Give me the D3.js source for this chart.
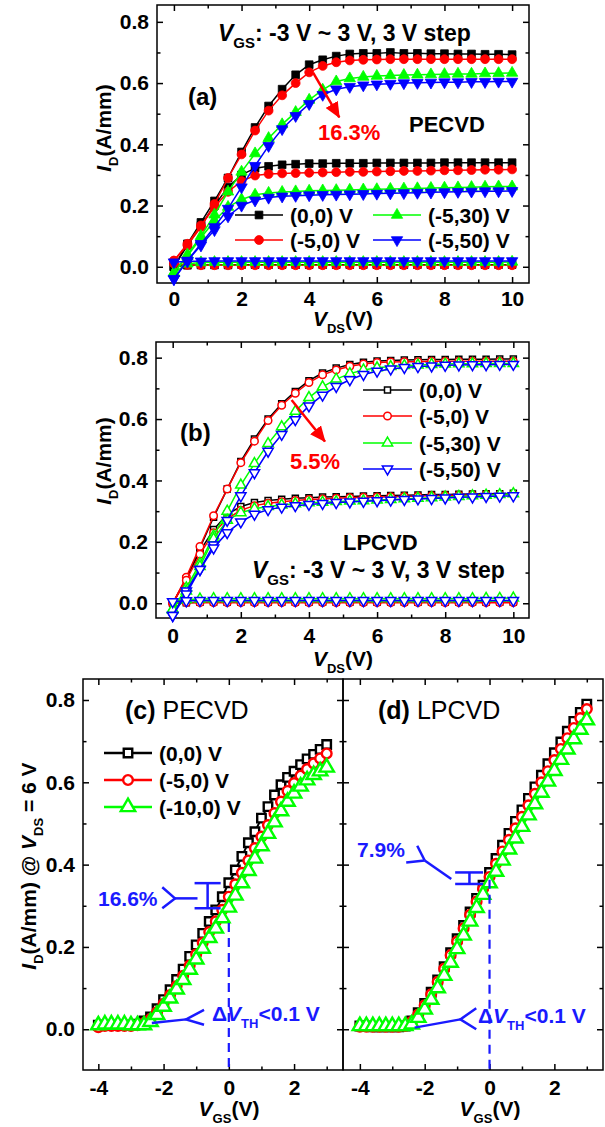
<!DOCTYPE html>
<html>
<head>
<meta charset="utf-8">
<script src="https://cdn.jsdelivr.net/npm/d3@7"></script>
<style>
  body { margin: 0; background: #fff; }
  svg { display: block; }
</style>
</head>
<body>
<script>
const FONT = "'Liberation Sans', Arial, Helvetica, sans-serif";

// ---- panel (a)/(b): output curves, V_DS sweep ----
const vds = [0, 0.4, 0.8, 1.2, 1.6, 2, 2.4, 2.8, 3.2, 3.6, 4, 4.4, 4.8, 5.2, 5.6, 6, 6.4, 6.8, 7.2, 7.6, 8, 8.4, 8.8, 9.2, 9.6, 10];

// (a) PECVD, VGS = 3 V / 0 V / -3 V
const aBlackHi = [0.000, 0.075, 0.145, 0.215, 0.290, 0.375, 0.455, 0.525, 0.580, 0.627, 0.660, 0.676, 0.688, 0.695, 0.697, 0.697, 0.700, 0.697, 0.697, 0.696, 0.696, 0.695, 0.695, 0.694, 0.694, 0.693];
const aRedHi   = [0.020, 0.070, 0.130, 0.205, 0.290, 0.367, 0.445, 0.510, 0.560, 0.600, 0.635, 0.656, 0.668, 0.674, 0.676, 0.677, 0.678, 0.678, 0.678, 0.678, 0.678, 0.678, 0.678, 0.678, 0.678, 0.678];
const aGreenHi = [-0.020, 0.040, 0.100, 0.170, 0.245, 0.310, 0.370, 0.420, 0.465, 0.505, 0.545, 0.578, 0.605, 0.615, 0.620, 0.623, 0.625, 0.626, 0.627, 0.628, 0.629, 0.630, 0.630, 0.631, 0.632, 0.633];
const aBlueHi  = [-0.040, 0.020, 0.075, 0.130, 0.190, 0.260, 0.330, 0.395, 0.450, 0.493, 0.532, 0.562, 0.580, 0.588, 0.593, 0.596, 0.598, 0.600, 0.601, 0.602, 0.603, 0.603, 0.604, 0.604, 0.605, 0.605];
const aBlackMid = [0.000, 0.070, 0.135, 0.200, 0.260, 0.300, 0.322, 0.328, 0.333, 0.335, 0.337, 0.337, 0.338, 0.338, 0.338, 0.339, 0.339, 0.339, 0.339, 0.339, 0.340, 0.340, 0.340, 0.340, 0.340, 0.340];
const aRedMid   = [0.020, 0.075, 0.135, 0.195, 0.245, 0.280, 0.298, 0.303, 0.305, 0.306, 0.307, 0.308, 0.309, 0.310, 0.310, 0.311, 0.312, 0.313, 0.313, 0.314, 0.315, 0.315, 0.316, 0.317, 0.317, 0.318];
const aGreenMid = [-0.020, 0.035, 0.095, 0.150, 0.195, 0.220, 0.235, 0.241, 0.244, 0.246, 0.248, 0.249, 0.250, 0.251, 0.252, 0.253, 0.254, 0.255, 0.256, 0.257, 0.258, 0.259, 0.260, 0.261, 0.262, 0.262];
const aBlueMid  = [-0.040, 0.020, 0.070, 0.120, 0.165, 0.200, 0.217, 0.226, 0.230, 0.232, 0.234, 0.235, 0.236, 0.237, 0.238, 0.239, 0.240, 0.241, 0.242, 0.243, 0.244, 0.245, 0.246, 0.247, 0.247, 0.248];
const aBlackOff = [0.000, 0.005, 0.006, 0.006, 0.006, 0.007, 0.007, 0.007, 0.007, 0.007, 0.007, 0.007, 0.007, 0.007, 0.007, 0.007, 0.007, 0.007, 0.007, 0.007, 0.007, 0.007, 0.007, 0.007, 0.007, 0.007];
const aRedOff   = [0.010, 0.006, 0.005, 0.005, 0.005, 0.005, 0.005, 0.005, 0.005, 0.005, 0.005, 0.005, 0.005, 0.005, 0.005, 0.005, 0.005, 0.005, 0.005, 0.005, 0.005, 0.005, 0.005, 0.005, 0.005, 0.005];
const aGreenOff = [-0.020, 0.010, 0.014, 0.015, 0.015, 0.015, 0.015, 0.015, 0.015, 0.015, 0.015, 0.015, 0.015, 0.015, 0.015, 0.015, 0.015, 0.015, 0.015, 0.015, 0.015, 0.015, 0.015, 0.015, 0.015, 0.016];
const aBlueOff  = [0.015, 0.018, 0.018, 0.019, 0.019, 0.019, 0.019, 0.019, 0.019, 0.019, 0.019, 0.019, 0.019, 0.019, 0.019, 0.019, 0.019, 0.019, 0.019, 0.019, 0.019, 0.019, 0.019, 0.019, 0.019, 0.019];

// (b) LPCVD
const bBlackHi = [0.000, 0.080, 0.180, 0.280, 0.372, 0.462, 0.535, 0.600, 0.650, 0.690, 0.725, 0.750, 0.766, 0.778, 0.785, 0.789, 0.791, 0.792, 0.793, 0.794, 0.794, 0.795, 0.795, 0.795, 0.796, 0.796];
const bRedHi   = [0.000, 0.085, 0.185, 0.285, 0.372, 0.458, 0.528, 0.595, 0.645, 0.684, 0.719, 0.744, 0.760, 0.772, 0.779, 0.784, 0.786, 0.787, 0.787, 0.788, 0.788, 0.788, 0.788, 0.788, 0.788, 0.788];
const bGreenHi = [-0.020, 0.050, 0.130, 0.220, 0.300, 0.385, 0.455, 0.520, 0.575, 0.625, 0.670, 0.705, 0.730, 0.748, 0.760, 0.767, 0.771, 0.774, 0.776, 0.778, 0.779, 0.780, 0.780, 0.781, 0.781, 0.781];
const bBlueHi  = [-0.040, 0.040, 0.110, 0.190, 0.270, 0.350, 0.425, 0.495, 0.550, 0.598, 0.643, 0.678, 0.706, 0.728, 0.745, 0.756, 0.763, 0.768, 0.771, 0.773, 0.775, 0.776, 0.777, 0.777, 0.778, 0.778];
const bBlackMid = [0.000, 0.080, 0.170, 0.240, 0.290, 0.315, 0.328, 0.335, 0.339, 0.342, 0.344, 0.346, 0.347, 0.348, 0.349, 0.350, 0.351, 0.352, 0.353, 0.354, 0.354, 0.355, 0.356, 0.357, 0.357, 0.358];
const bRedMid   = [0.000, 0.075, 0.160, 0.230, 0.275, 0.303, 0.318, 0.326, 0.331, 0.335, 0.338, 0.340, 0.342, 0.344, 0.345, 0.346, 0.347, 0.348, 0.349, 0.350, 0.351, 0.352, 0.353, 0.354, 0.354, 0.355];
const bGreenMid = [-0.020, 0.040, 0.120, 0.210, 0.270, 0.295, 0.308, 0.315, 0.320, 0.324, 0.327, 0.329, 0.331, 0.333, 0.334, 0.336, 0.338, 0.340, 0.342, 0.344, 0.346, 0.348, 0.350, 0.352, 0.354, 0.357];
const bBlueMid  = [-0.040, 0.030, 0.110, 0.180, 0.230, 0.265, 0.290, 0.305, 0.313, 0.318, 0.322, 0.325, 0.328, 0.330, 0.332, 0.334, 0.336, 0.338, 0.340, 0.341, 0.343, 0.345, 0.346, 0.348, 0.349, 0.350];
const bBlackOff = [0.000, 0.002, 0.003, 0.003, 0.003, 0.003, 0.003, 0.003, 0.003, 0.003, 0.003, 0.003, 0.003, 0.003, 0.003, 0.003, 0.003, 0.003, 0.003, 0.003, 0.003, 0.003, 0.003, 0.003, 0.003, 0.003];
const bRedOff   = [0.000, 0.002, 0.002, 0.002, 0.002, 0.002, 0.002, 0.002, 0.002, 0.002, 0.002, 0.002, 0.002, 0.002, 0.002, 0.002, 0.002, 0.002, 0.002, 0.002, 0.002, 0.002, 0.002, 0.002, 0.002, 0.002];
const bGreenOff = [-0.020, 0.012, 0.014, 0.015, 0.015, 0.015, 0.015, 0.015, 0.015, 0.015, 0.015, 0.015, 0.015, 0.015, 0.015, 0.015, 0.015, 0.015, 0.015, 0.015, 0.015, 0.015, 0.015, 0.016, 0.016, 0.017];
const bBlueOff  = [0.005, 0.008, 0.009, 0.009, 0.009, 0.009, 0.009, 0.009, 0.009, 0.009, 0.009, 0.009, 0.009, 0.009, 0.009, 0.009, 0.009, 0.009, 0.009, 0.009, 0.009, 0.009, 0.009, 0.009, 0.009, 0.009];

// ---- panel (c)/(d): transfer curves at VDS = 6 V ----
const vgs = [-4, -3.8, -3.6, -3.4, -3.2, -3, -2.8, -2.6, -2.4, -2.2, -2, -1.8, -1.6, -1.4, -1.2, -1, -0.8, -0.6, -0.4, -0.2, 0, 0.2, 0.4, 0.6, 0.8, 1, 1.2, 1.4, 1.6, 1.8, 2, 2.2, 2.4, 2.6, 2.8, 3];
const cBlack = [0.010, 0.010, 0.010, 0.010, 0.010, 0.010, 0.012, 0.020, 0.030, 0.050, 0.072, 0.096, 0.121, 0.146, 0.177, 0.205, 0.233, 0.262, 0.290, 0.322, 0.356, 0.387, 0.420, 0.453, 0.480, 0.513, 0.541, 0.569, 0.594, 0.612, 0.627, 0.643, 0.657, 0.668, 0.680, 0.692];
const cRed   = [0.005, 0.008, 0.008, 0.008, 0.008, 0.008, 0.010, 0.015, 0.025, 0.042, 0.062, 0.083, 0.105, 0.130, 0.155, 0.182, 0.210, 0.236, 0.262, 0.290, 0.322, 0.352, 0.380, 0.410, 0.440, 0.468, 0.496, 0.525, 0.553, 0.579, 0.598, 0.616, 0.632, 0.646, 0.658, 0.670];
const cGreen = [0.010, 0.012, 0.012, 0.012, 0.012, 0.010, 0.010, 0.010, 0.018, 0.035, 0.055, 0.075, 0.097, 0.120, 0.145, 0.170, 0.196, 0.222, 0.245, 0.270, 0.296, 0.325, 0.355, 0.385, 0.415, 0.445, 0.475, 0.503, 0.530, 0.553, 0.573, 0.590, 0.605, 0.618, 0.627, 0.636];
const dBlack = [0.008, 0.008, 0.006, 0.006, 0.006, 0.006, 0.006, 0.008, 0.020, 0.040, 0.063, 0.090, 0.120, 0.152, 0.186, 0.220, 0.252, 0.285, 0.318, 0.350, 0.381, 0.415, 0.447, 0.476, 0.505, 0.533, 0.561, 0.589, 0.617, 0.645, 0.672, 0.698, 0.724, 0.748, 0.770, 0.790];
const dRed   = [0.006, 0.006, 0.006, 0.006, 0.006, 0.006, 0.006, 0.008, 0.018, 0.036, 0.058, 0.085, 0.115, 0.147, 0.180, 0.213, 0.245, 0.278, 0.310, 0.341, 0.370, 0.402, 0.432, 0.460, 0.488, 0.516, 0.544, 0.572, 0.600, 0.627, 0.654, 0.681, 0.707, 0.732, 0.756, 0.778];
const dGreen = [0.008, 0.008, 0.008, 0.008, 0.008, 0.008, 0.008, 0.008, 0.012, 0.028, 0.048, 0.072, 0.100, 0.130, 0.162, 0.195, 0.228, 0.262, 0.295, 0.327, 0.355, 0.383, 0.410, 0.437, 0.464, 0.492, 0.520, 0.547, 0.575, 0.602, 0.628, 0.655, 0.680, 0.705, 0.728, 0.751];

// tick values
const yMajor = [0, 0.2, 0.4, 0.6, 0.8];
const yMinor = [0.1, 0.3, 0.5, 0.7];
const vdsMajor = [0, 2, 4, 6, 8, 10];
const vdsMinor = [1, 3, 5, 7, 9];
const vgsMajor = [-4, -2, 0, 2];
const vgsMinor = [-3, -1, 1, 3];

// legend names
const abNames = ["(0,0) V", "(-5,0) V", "(-5,30) V", "(-5,50) V"];
const cdNames = ["(0,0) V", "(-5,0) V", "(-10,0) V"];
const colors = ["#000000", "#ff0000", "#00ff00", "#0000ff"];
const shapes = ["square", "circle", "up", "down"];

// annotations (data coordinates)
const aArrow = [[4.12, 0.633], [4.89, 0.488]];
const bArrow = [[3.49, 0.662], [4.47, 0.527]];
const annBlue = "#1a1aff";

const svg = d3.select("body").append("svg")
  .attr("width", 605).attr("height", 1127)
  .style("background", "#fff");

const defs = svg.append("defs");
defs.append("marker")
  .attr("id", "redhead")
  .attr("markerUnits", "userSpaceOnUse")
  .attr("markerWidth", 16).attr("markerHeight", 14)
  .attr("refX", 15).attr("refY", 7)
  .attr("orient", "auto")
  .append("path")
  .attr("d", "M0,0 L16,7 L0,14 Z")
  .attr("fill", "#ff0000");

function sym(shape, size) {
  const t = { square: d3.symbolSquare, circle: d3.symbolCircle, up: d3.symbolTriangle, down: d3.symbolTriangle }[shape];
  return d3.symbol().type(t).size(size)();
}

function rich(g, x, y, parts, opt) {
  opt = opt || {};
  const fs = opt.size || 21;
  const t = g.append("text")
    .attr("x", x).attr("y", y)
    .attr("font-family", FONT)
    .attr("font-size", fs)
    .attr("font-weight", opt.weight || "bold")
    .attr("fill", opt.color || "#000")
    .attr("text-anchor", opt.anchor || "start");
  if (opt.rotate) t.attr("transform", "rotate(-90," + x + "," + y + ")");
  let shifted = false;
  parts.forEach(function(p) {
    const s = typeof p === "string" ? p : p[0];
    const f = typeof p === "string" ? "" : p[1];
    const ts = t.append("tspan").text(s);
    if (f.indexOf("i") >= 0) ts.attr("font-style", "italic");
    if (f.indexOf("n") >= 0) ts.attr("font-weight", "normal");
    if (f.indexOf("s") >= 0) {
      ts.attr("font-size", Math.round(fs * 0.64));
      if (!shifted) ts.attr("dy", fs * 0.32);
      shifted = true;
    } else if (shifted) {
      ts.attr("dy", -fs * 0.32);
      shifted = false;
    }
  });
  return t;
}

function panel(cfg) {
  const x = d3.scaleLinear().domain(cfg.xDom).range([cfg.l, cfg.r]);
  const y = d3.scaleLinear().domain(cfg.yDom).range([cfg.b, cfg.t]);
  const g = svg.append("g");

  function styleAxis(sel) {
    sel.select(".domain").remove();
    sel.selectAll("line").attr("stroke", "#000").attr("stroke-width", 1.5);
    sel.selectAll("text")
      .attr("font-family", FONT).attr("font-size", 21)
      .attr("font-weight", "bold").attr("fill", "#000");
  }
  const xfmt = cfg.xLabels ? (d => String(d)) : (() => "");
  const yfmt = cfg.yLabels ? d3.format(".1f") : (() => "");

  g.append("g").attr("transform", "translate(0," + cfg.b + ")")
    .call(d3.axisBottom(x).tickValues(cfg.xMajor).tickSize(-6).tickPadding(cfg.xPad).tickFormat(xfmt))
    .call(styleAxis);
  g.append("g").attr("transform", "translate(0," + cfg.b + ")")
    .call(d3.axisBottom(x).tickValues(cfg.xMinor).tickSize(-3.5).tickFormat(""))
    .call(styleAxis);
  g.append("g").attr("transform", "translate(0," + cfg.t + ")")
    .call(d3.axisTop(x).tickValues(cfg.xMajor).tickSize(-6).tickFormat(""))
    .call(styleAxis);
  g.append("g").attr("transform", "translate(0," + cfg.t + ")")
    .call(d3.axisTop(x).tickValues(cfg.xMinor).tickSize(-3.5).tickFormat(""))
    .call(styleAxis);
  g.append("g").attr("transform", "translate(" + cfg.l + ",0)")
    .call(d3.axisLeft(y).tickValues(yMajor).tickSize(-6).tickPadding(8).tickFormat(yfmt))
    .call(styleAxis);
  g.append("g").attr("transform", "translate(" + cfg.l + ",0)")
    .call(d3.axisLeft(y).tickValues(yMinor).tickSize(-3.5).tickFormat(""))
    .call(styleAxis);
  g.append("g").attr("transform", "translate(" + cfg.r + ",0)")
    .call(d3.axisRight(y).tickValues(yMajor).tickSize(-6).tickFormat(""))
    .call(styleAxis);
  g.append("g").attr("transform", "translate(" + cfg.r + ",0)")
    .call(d3.axisRight(y).tickValues(yMinor).tickSize(-3.5).tickFormat(""))
    .call(styleAxis);

  g.append("rect")
    .attr("x", cfg.l).attr("y", cfg.t)
    .attr("width", cfg.r - cfg.l).attr("height", cfg.b - cfg.t)
    .attr("fill", "none").attr("stroke", "#000").attr("stroke-width", 1.5);

  const line = d3.line().x(d => x(d[0])).y(d => y(d[1]));
  const plot = g.append("g");
  cfg.series.forEach(function(s) {
    s.curves.forEach(function(ys) {
      const pts = cfg.xs.map((v, i) => [v, ys[i]]);
      plot.append("path").attr("d", line(pts))
        .attr("fill", "none").attr("stroke", s.color).attr("stroke-width", cfg.lw);
      plot.selectAll(null).data(pts).enter().append("path")
        .attr("d", sym(s.shape, cfg.msize[s.shape]))
        .attr("transform", d => "translate(" + x(d[0]) + "," + y(d[1]) + ")" + (s.shape === "down" ? " rotate(180)" : ""))
        .attr("fill", cfg.open ? "#fff" : s.color)
        .attr("stroke", s.color)
        .attr("stroke-width", cfg.open ? cfg.mstroke : 0.8);
    });
  });
  return { g: g, x: x, y: y, line: line };
}

function legendItem(g, cx0, cx1, cy, s, msize, open, mstroke, lw, text) {
  g.append("line").attr("x1", cx0).attr("x2", cx1).attr("y1", cy).attr("y2", cy)
    .attr("stroke", s.color).attr("stroke-width", lw);
  g.append("path").attr("d", sym(s.shape, msize[s.shape]))
    .attr("transform", "translate(" + ((cx0 + cx1) / 2) + "," + cy + ")" + (s.shape === "down" ? " rotate(180)" : ""))
    .attr("fill", open ? "#fff" : s.color)
    .attr("stroke", s.color).attr("stroke-width", open ? mstroke : 0.8);
  rich(g, cx1 + 7, cy + 7.5, [text]);
}

// ---------- (a) ----------
const aSeries = [
  { color: colors[0], shape: shapes[0], curves: [aBlackHi, aBlackMid, aBlackOff] },
  { color: colors[1], shape: shapes[1], curves: [aRedHi, aRedMid, aRedOff] },
  { color: colors[2], shape: shapes[2], curves: [aGreenHi, aGreenMid, aGreenOff] },
  { color: colors[3], shape: shapes[3], curves: [aBlueHi, aBlueMid, aBlueOff] }
];
const aMs = { square: 60, circle: 62, up: 56, down: 56 };
const pa = panel({
  l: 157, r: 529, t: 5, b: 283,
  xDom: [-0.5, 10.5], yDom: [-0.053, 0.855],
  xMajor: vdsMajor, xMinor: vdsMinor, xLabels: true, yLabels: true, xPad: 8,
  xs: vds, series: aSeries, lw: 1.5, msize: aMs, open: false
});
rich(pa.g, 218, 41, [["V", "i"], ["GS", "s"], ": -3 V ~ 3 V, 3 V step"], { size: 23 });
rich(pa.g, 188, 105, ["(a)"], { size: 24 });
rich(pa.g, 318, 140, ["16.3%"], { size: 22, color: "#ff0000" });
rich(pa.g, 409, 132, ["PECVD"], { size: 22 });
pa.g.append("path").attr("d", pa.line(aArrow))
  .attr("stroke", "#ff0000").attr("stroke-width", 2.5).attr("fill", "none")
  .attr("marker-end", "url(#redhead)");
legendItem(pa.g, 235, 283, 215, aSeries[0], aMs, false, 0, 1.5, abNames[0]);
legendItem(pa.g, 235, 283, 240, aSeries[1], aMs, false, 0, 1.5, abNames[1]);
legendItem(pa.g, 373, 421, 215, aSeries[2], aMs, false, 0, 1.5, abNames[2]);
legendItem(pa.g, 373, 421, 240, aSeries[3], aMs, false, 0, 1.5, abNames[3]);
rich(svg, 343, 326, [["V", "i"], ["DS", "s"], "(V)"], { anchor: "middle" });
rich(svg, 111, 128, [["I", "i"], ["D", "s"], "(A/mm)"], { anchor: "middle", rotate: true });

// ---------- (b) ----------
const bSeries = [
  { color: colors[0], shape: shapes[0], curves: [bBlackHi, bBlackMid, bBlackOff] },
  { color: colors[1], shape: shapes[1], curves: [bRedHi, bRedMid, bRedOff] },
  { color: colors[2], shape: shapes[2], curves: [bGreenHi, bGreenMid, bGreenOff] },
  { color: colors[3], shape: shapes[3], curves: [bBlueHi, bBlueMid, bBlueOff] }
];
const bMs = { square: 36, circle: 44, up: 46, down: 46 };
const pb = panel({
  l: 156, r: 529, t: 342, b: 618,
  xDom: [-0.49, 10.46], yDom: [-0.048, 0.851],
  xMajor: vdsMajor, xMinor: vdsMinor, xLabels: true, yLabels: true, xPad: 10,
  xs: vds, series: bSeries, lw: 1.5, msize: bMs, open: true, mstroke: 1.5
});
rich(pb.g, 180, 441, ["(b)"], { size: 24 });
rich(pb.g, 290, 469, ["5.5%"], { size: 22, color: "#ff0000" });
rich(pb.g, 343, 550, ["LPCVD"], { size: 22 });
rich(pb.g, 252, 578, [["V", "i"], ["GS", "s"], ": -3 V ~ 3 V, 3 V step"], { size: 23 });
pb.g.append("path").attr("d", pb.line(bArrow))
  .attr("stroke", "#ff0000").attr("stroke-width", 2.5).attr("fill", "none")
  .attr("marker-end", "url(#redhead)");
[390, 416, 443, 469].forEach((cy, i) => legendItem(pb.g, 363, 412, cy, bSeries[i], bMs, true, 1.5, 1.5, abNames[i]));
rich(svg, 343, 666, [["V", "i"], ["DS", "s"], "(V)"], { anchor: "middle" });
rich(svg, 111, 461, [["I", "i"], ["D", "s"], "(A/mm)"], { anchor: "middle", rotate: true });

// ---------- (c) ----------
const cSeries = [
  { color: colors[0], shape: shapes[0], curves: [cBlack] },
  { color: colors[1], shape: shapes[1], curves: [cRed] },
  { color: colors[2], shape: shapes[2], curves: [cGreen] }
];
const cMs = { square: 72, circle: 74, up: 90, down: 90 };
const pc = panel({
  l: 83, r: 343, t: 679, b: 1070,
  xDom: [-4.47, 3.5], yDom: [-0.099, 0.851],
  xMajor: vgsMajor, xMinor: vgsMinor, xLabels: true, yLabels: true, xPad: 10,
  xs: vgs, series: cSeries, lw: 2, msize: cMs, open: true, mstroke: 2.4
});
rich(pc.g, 125, 719, ["(c) ", ["PECVD", "n"]], { size: 25 });
[753, 780, 807].forEach((cy, i) => legendItem(pc.g, 104, 152, cy, cSeries[i], cMs, true, 2.4, 2.4, cdNames[i]));
rich(svg, 229, 1116, [["V", "i"], ["GS", "s"], "(V)"], { anchor: "middle" });
rich(svg, 36, 866, [["I", "i"], ["D", "s"], "(A/mm) @ ", ["V", "i"], ["DS", "s"], " = 6 V"], { anchor: "middle", rotate: true });

function blueLines(p, segs) {
  segs.forEach(function(seg) {
    p.g.append("path").attr("d", p.line(seg))
      .attr("fill", "none").attr("stroke", annBlue).attr("stroke-width", 2.5);
  });
}
function dashed(p, xv, y0, y1) {
  p.g.append("path").attr("d", p.line([[xv, y0], [xv, y1]]))
    .attr("stroke", annBlue).attr("stroke-width", 2.2).attr("stroke-dasharray", "9,6");
}
// 16.6% bracket
blueLines(pc, [
  [[-1.05, 0.355], [-0.25, 0.355]],
  [[-1.05, 0.294], [-0.25, 0.294]],
  [[-0.65, 0.355], [-0.65, 0.294]],
  [[-2.04, 0.345], [-1.65, 0.318], [-2.04, 0.294]],
  [[-1.65, 0.318], [-0.96, 0.318]],
  [[-0.76, 0.047], [-1.31, 0.024], [-0.76, 0.011]],
  [[-1.31, 0.024], [-2.36, 0.015]]
]);
dashed(pc, 0, 0.258, -0.099);
rich(pc.g, 98, 906, ["16.6%"], { color: annBlue });
rich(pc.g, 212, 1021, ["\u0394", ["V", "i"], ["TH", "s"], "<0.1 V"], { color: annBlue });

// ---------- (d) ----------
const dSeries = [
  { color: colors[0], shape: shapes[0], curves: [dBlack] },
  { color: colors[1], shape: shapes[1], curves: [dRed] },
  { color: colors[2], shape: shapes[2], curves: [dGreen] }
];
const pd = panel({
  l: 343, r: 603, t: 679, b: 1070,
  xDom: [-4.52, 3.5], yDom: [-0.099, 0.851],
  xMajor: vgsMajor, xMinor: vgsMinor, xLabels: true, yLabels: false, xPad: 10,
  xs: vgs, series: dSeries, lw: 2, msize: cMs, open: true, mstroke: 2.4
});
rich(pd.g, 378, 719, ["(d) ", ["LPCVD", "n"]], { size: 25 });
rich(svg, 490, 1116, [["V", "i"], ["GS", "s"], "(V)"], { anchor: "middle" });
blueLines(pd, [
  [[-1.06, 0.381], [-0.2, 0.381]],
  [[-1.06, 0.353], [-0.2, 0.353]],
  [[-0.62, 0.381], [-0.62, 0.353]],
  [[-2.23, 0.446], [-2.0, 0.41]],
  [[-2.57, 0.405], [-2.0, 0.41]],
  [[-2.0, 0.41], [-1.18, 0.365]],
  [[-0.41, 0.051], [-0.9, 0.024], [-0.41, 0.0]],
  [[-0.9, 0.024], [-2.31, 0.004]]
]);
dashed(pd, 0, 0.363, -0.099);
rich(pd.g, 357, 857, ["7.9%"], { color: annBlue });
rich(pd.g, 478, 1023, ["\u0394", ["V", "i"], ["TH", "s"], "<0.1 V"], { color: annBlue });
</script>
</body>
</html>
